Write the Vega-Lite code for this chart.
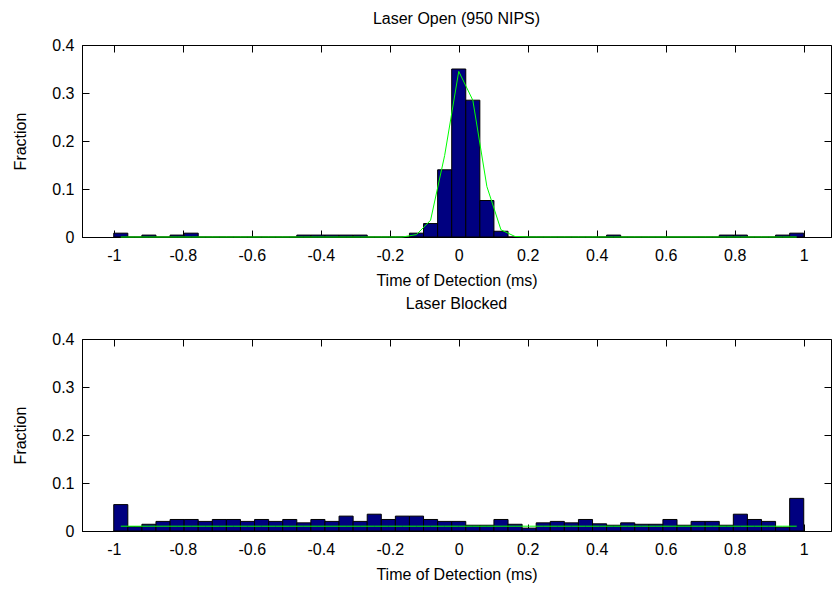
{
  "$schema": "https://vega.github.io/schema/vega-lite/v6.json",
  "background": "white",
  "padding": {"left": 12, "top": 10, "right": 0, "bottom": 0},
  "spacing": 6,
  "config": {
    "font": "Liberation Sans",
    "view": {"stroke": "black", "strokeWidth": 1},
    "title": {"font": "Liberation Sans", "fontSize": 16, "fontWeight": "normal", "color": "black", "anchor": "middle"},
    "axis": {
      "labelFont": "Liberation Sans", "labelFontSize": 16, "labelColor": "black",
      "titleFont": "Liberation Sans", "titleFontSize": 16, "titleFontWeight": "normal", "titleColor": "black",
      "tickColor": "black", "domainColor": "black", "grid": false, "tickSize": -7,
      "labelOverlap": false, "labelFlush": false
    }
  },
  "datasets": {
    "bins": [
      {"lo": -1, "hi": -0.9592, "c": -0.9796, "o": 0.008, "og": 0, "b": 0.055, "bg": 0.01},
      {"lo": -0.9592, "hi": -0.9184, "c": -0.9388, "o": 0, "og": 0, "b": 0.009, "bg": 0.01},
      {"lo": -0.9184, "hi": -0.8776, "c": -0.898, "o": 0.004, "og": 0, "b": 0.014, "bg": 0.01},
      {"lo": -0.8776, "hi": -0.8367, "c": -0.8571, "o": 0, "og": 0, "b": 0.02, "bg": 0.01},
      {"lo": -0.8367, "hi": -0.7959, "c": -0.8163, "o": 0.004, "og": 0, "b": 0.024, "bg": 0.01},
      {"lo": -0.7959, "hi": -0.7551, "c": -0.7755, "o": 0.008, "og": 0, "b": 0.024, "bg": 0.01},
      {"lo": -0.7551, "hi": -0.7143, "c": -0.7347, "o": 0, "og": 0, "b": 0.02, "bg": 0.01},
      {"lo": -0.7143, "hi": -0.6735, "c": -0.6939, "o": 0, "og": 0, "b": 0.024, "bg": 0.01},
      {"lo": -0.6735, "hi": -0.6327, "c": -0.6531, "o": 0, "og": 0, "b": 0.024, "bg": 0.01},
      {"lo": -0.6327, "hi": -0.5918, "c": -0.6122, "o": 0, "og": 0, "b": 0.02, "bg": 0.01},
      {"lo": -0.5918, "hi": -0.551, "c": -0.5714, "o": 0, "og": 0, "b": 0.024, "bg": 0.01},
      {"lo": -0.551, "hi": -0.5102, "c": -0.5306, "o": 0, "og": 0, "b": 0.02, "bg": 0.01},
      {"lo": -0.5102, "hi": -0.4694, "c": -0.4898, "o": 0, "og": 0, "b": 0.024, "bg": 0.01},
      {"lo": -0.4694, "hi": -0.4286, "c": -0.449, "o": 0.004, "og": 0, "b": 0.017, "bg": 0.01},
      {"lo": -0.4286, "hi": -0.3878, "c": -0.4082, "o": 0.004, "og": 0, "b": 0.024, "bg": 0.01},
      {"lo": -0.3878, "hi": -0.3469, "c": -0.3673, "o": 0.004, "og": 0, "b": 0.02, "bg": 0.01},
      {"lo": -0.3469, "hi": -0.3061, "c": -0.3265, "o": 0.004, "og": 0, "b": 0.031, "bg": 0.01},
      {"lo": -0.3061, "hi": -0.2653, "c": -0.2857, "o": 0.004, "og": 0, "b": 0.02, "bg": 0.01},
      {"lo": -0.2653, "hi": -0.2245, "c": -0.2449, "o": 0, "og": 0, "b": 0.035, "bg": 0.01},
      {"lo": -0.2245, "hi": -0.1837, "c": -0.2041, "o": 0, "og": 0, "b": 0.024, "bg": 0.01},
      {"lo": -0.1837, "hi": -0.1429, "c": -0.1633, "o": 0, "og": 0, "b": 0.031, "bg": 0.01},
      {"lo": -0.1429, "hi": -0.102, "c": -0.1224, "o": 0.008, "og": 0.005, "b": 0.031, "bg": 0.01},
      {"lo": -0.102, "hi": -0.0612, "c": -0.0816, "o": 0.028, "og": 0.035, "b": 0.024, "bg": 0.01},
      {"lo": -0.0612, "hi": -0.0204, "c": -0.0408, "o": 0.14, "og": 0.17, "b": 0.02, "bg": 0.01},
      {"lo": -0.0204, "hi": 0.0204, "c": 0, "o": 0.35, "og": 0.345, "b": 0.02, "bg": 0.01},
      {"lo": 0.0204, "hi": 0.0612, "c": 0.0408, "o": 0.285, "og": 0.285, "b": 0.012, "bg": 0.01},
      {"lo": 0.0612, "hi": 0.102, "c": 0.0816, "o": 0.076, "og": 0.105, "b": 0.012, "bg": 0.01},
      {"lo": 0.102, "hi": 0.1429, "c": 0.1224, "o": 0.012, "og": 0.015, "b": 0.024, "bg": 0.01},
      {"lo": 0.1429, "hi": 0.1837, "c": 0.1633, "o": 0, "og": 0.001, "b": 0.014, "bg": 0.01},
      {"lo": 0.1837, "hi": 0.2245, "c": 0.2041, "o": 0, "og": 0, "b": 0.006, "bg": 0.01},
      {"lo": 0.2245, "hi": 0.2653, "c": 0.2449, "o": 0, "og": 0, "b": 0.017, "bg": 0.01},
      {"lo": 0.2653, "hi": 0.3061, "c": 0.2857, "o": 0, "og": 0, "b": 0.02, "bg": 0.01},
      {"lo": 0.3061, "hi": 0.3469, "c": 0.3265, "o": 0, "og": 0, "b": 0.017, "bg": 0.01},
      {"lo": 0.3469, "hi": 0.3878, "c": 0.3673, "o": 0, "og": 0, "b": 0.024, "bg": 0.01},
      {"lo": 0.3878, "hi": 0.4286, "c": 0.4082, "o": 0, "og": 0, "b": 0.015, "bg": 0.01},
      {"lo": 0.4286, "hi": 0.4694, "c": 0.449, "o": 0.004, "og": 0, "b": 0.012, "bg": 0.01},
      {"lo": 0.4694, "hi": 0.5102, "c": 0.4898, "o": 0, "og": 0, "b": 0.017, "bg": 0.01},
      {"lo": 0.5102, "hi": 0.551, "c": 0.5306, "o": 0, "og": 0, "b": 0.014, "bg": 0.01},
      {"lo": 0.551, "hi": 0.5918, "c": 0.5714, "o": 0, "og": 0, "b": 0.014, "bg": 0.01},
      {"lo": 0.5918, "hi": 0.6327, "c": 0.6122, "o": 0, "og": 0, "b": 0.024, "bg": 0.01},
      {"lo": 0.6327, "hi": 0.6735, "c": 0.6531, "o": 0, "og": 0, "b": 0.012, "bg": 0.01},
      {"lo": 0.6735, "hi": 0.7143, "c": 0.6939, "o": 0, "og": 0, "b": 0.02, "bg": 0.01},
      {"lo": 0.7143, "hi": 0.7551, "c": 0.7347, "o": 0, "og": 0, "b": 0.02, "bg": 0.01},
      {"lo": 0.7551, "hi": 0.7959, "c": 0.7755, "o": 0.004, "og": 0, "b": 0.012, "bg": 0.01},
      {"lo": 0.7959, "hi": 0.8367, "c": 0.8163, "o": 0.004, "og": 0, "b": 0.035, "bg": 0.01},
      {"lo": 0.8367, "hi": 0.8776, "c": 0.8571, "o": 0, "og": 0, "b": 0.024, "bg": 0.01},
      {"lo": 0.8776, "hi": 0.9184, "c": 0.898, "o": 0, "og": 0, "b": 0.02, "bg": 0.01},
      {"lo": 0.9184, "hi": 0.9592, "c": 0.9388, "o": 0.004, "og": 0, "b": 0.008, "bg": 0.01},
      {"lo": 0.9592, "hi": 1, "c": 0.9796, "o": 0.008, "og": 0, "b": 0.068, "bg": 0.01}
    ]
  },
  "vconcat": [
    {
      "title": {"text": "Laser Open (950 NIPS)", "offset": 10},
      "width": 749,
      "height": 192,
      "data": {"name": "bins"},
      "layer": [
        {
          "mark": {"type": "bar", "color": "#000080", "stroke": "black", "strokeWidth": 1},
          "encoding": {
            "x": {"field": "lo", "type": "quantitative",
                  "scale": {"domain": [-1.092, 1.079], "nice": false, "zero": false},
                  "axis": {"orient": "bottom", "values": [-1, -0.8, -0.6, -0.4, -0.2, 0, 0.2, 0.4, 0.6, 0.8, 1],
                           "labelExpr": "'' + datum.value", "labelPadding": 17, "title": "Time of Detection (ms)", "titlePadding": 9}},
            "x2": {"field": "hi"},
            "y": {"field": "o", "type": "quantitative",
                  "scale": {"domain": [0, 0.4], "nice": false},
                  "axis": {"orient": "left", "values": [0, 0.1, 0.2, 0.3, 0.4], "labelExpr": "'' + datum.value",
                           "labelPadding": 15, "title": "Fraction", "titlePadding": 23}},
            "y2": {"datum": 0}
          }
        },
        {
          "mark": {"type": "line", "color": "#00ff00", "strokeWidth": 1},
          "encoding": {
            "x": {"field": "c", "type": "quantitative",
                  "axis": {"orient": "top", "values": [-1, -0.8, -0.6, -0.4, -0.2, 0, 0.2, 0.4, 0.6, 0.8, 1], "labels": false, "title": null, "domain": false}},
            "y": {"field": "og", "type": "quantitative",
                  "axis": {"orient": "right", "values": [0, 0.1, 0.2, 0.3, 0.4], "labels": false, "title": null, "domain": false}}
          }
        }
      ],
      "resolve": {"axis": {"x": "independent", "y": "independent"}}
    },
    {
      "title": {"text": "Laser Blocked", "offset": 19},
      "width": 749,
      "height": 192,
      "data": {"name": "bins"},
      "layer": [
        {
          "mark": {"type": "bar", "color": "#000080", "stroke": "black", "strokeWidth": 1},
          "encoding": {
            "x": {"field": "lo", "type": "quantitative",
                  "scale": {"domain": [-1.092, 1.079], "nice": false, "zero": false},
                  "axis": {"orient": "bottom", "values": [-1, -0.8, -0.6, -0.4, -0.2, 0, 0.2, 0.4, 0.6, 0.8, 1],
                           "labelExpr": "'' + datum.value", "labelPadding": 17, "title": "Time of Detection (ms)", "titlePadding": 9}},
            "x2": {"field": "hi"},
            "y": {"field": "b", "type": "quantitative",
                  "scale": {"domain": [0, 0.4], "nice": false},
                  "axis": {"orient": "left", "values": [0, 0.1, 0.2, 0.3, 0.4], "labelExpr": "'' + datum.value",
                           "labelPadding": 15, "title": "Fraction", "titlePadding": 23}},
            "y2": {"datum": 0}
          }
        },
        {
          "mark": {"type": "line", "color": "#00ff00", "strokeWidth": 1},
          "encoding": {
            "x": {"field": "c", "type": "quantitative",
                  "axis": {"orient": "top", "values": [-1, -0.8, -0.6, -0.4, -0.2, 0, 0.2, 0.4, 0.6, 0.8, 1], "labels": false, "title": null, "domain": false}},
            "y": {"field": "bg", "type": "quantitative",
                  "axis": {"orient": "right", "values": [0, 0.1, 0.2, 0.3, 0.4], "labels": false, "title": null, "domain": false}}
          }
        }
      ],
      "resolve": {"axis": {"x": "independent", "y": "independent"}}
    }
  ]
}
